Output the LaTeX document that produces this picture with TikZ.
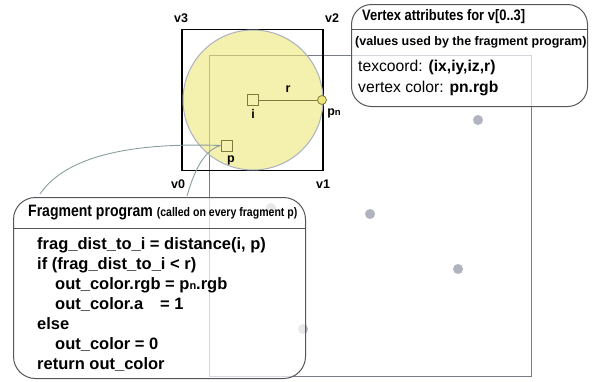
\documentclass[tikz,border=0pt]{standalone}
\usepackage{fontspec}
\setmainfont{Liberation Sans}
\newfontfamily\condfont{Liberation Sans}[FakeStretch=0.85]
\usetikzlibrary{positioning}
\definecolor{boxgray}{RGB}{85,85,92}
\definecolor{rectgray}{RGB}{120,124,138}
\definecolor{dotgray}{RGB}{176,180,192}
\definecolor{olivegray}{RGB}{128,122,62}
\definecolor{linkgray}{RGB}{138,158,160}
\definecolor{discfill}{RGB}{236,230,120}
\definecolor{discline}{RGB}{170,176,192}

\begin{document}
\begin{tikzpicture}[x=1pt, y=-1pt,
        attrbox/.style={draw=boxgray, line width=1pt, fill=white, fill opacity=0.7, rounded corners=20pt, inner sep=0pt},
        vlabel/.style={font=\bfseries\fontsize{12.5}{13}\selectfont, inner sep=0pt},
        marker/.style={draw=olivegray, line width=0.9pt, minimum size=11pt, inner sep=0pt},
        sample/.style={circle, fill=dotgray, minimum size=10pt, inner sep=0pt},
        link/.style={draw=linkgray, line width=0.9pt}
    ]
        \useasboundingbox (0,0) rectangle (602,381);

        % fragments covered by the quad
        \draw[rectgray, line width=1pt] (209,55) rectangle (531,376);
        \foreach \name/\px/\py in {s1/478/120, s2/370/214, s3/458/269, s4/303/329, s5/271/208}
            \node[sample] (\name) at (\px,\py) {};

        % the quad and its disc
        \node[draw=black, line width=1.8pt, minimum size=141pt, inner sep=0pt] (quad) at (252.5,100) {};
        \fill[discfill, fill opacity=0.6] (253,100) circle (70);
        \draw[discline, line width=1pt] (253,100) circle (70);

        \node[marker] (i) at (252.5,100) {};
        \node[marker] (p) at (226.5,145.5) {};
        \node[circle, draw=olivegray, fill=discfill, line width=0.8pt, minimum size=9pt, inner sep=0pt] (pn) at (322,100) {};
        \draw[olivegray, line width=1pt] (i) -- (pn);

        \node[vlabel] (lv3) at (181,18) {v3};
        \node[vlabel] (lv2) at (332,18) {v2};
        \node[vlabel] (lv0) at (178,184) {v0};
        \node[vlabel] (lv1) at (323,184) {v1};
        \node[vlabel] (li) at (253,114) {i};
        \node[vlabel] (lp) at (231,160) {p};
        \node[vlabel] (lr) at (288,89) {r};
        \node[vlabel] (lpn) at (334,113) {p{\fontsize{9.5}{10}\selectfont n}};

        % vertex attributes
        \node[attrbox, minimum width=236pt, minimum height=102pt, anchor=north west] (attr) at (351,4) {};
        \draw[boxgray, line width=1pt] (351,29) -- (587,29);
        \node[anchor=west, inner sep=0pt, font=\condfont\bfseries\fontsize{15.2}{16}\selectfont] (attrtitle) at (362,17) {Vertex attributes for v[0..3]};
        \node[anchor=west, inner sep=0pt, font=\bfseries\fontsize{12.5}{13}\selectfont] (attrnote) at (355,42) {(values used by the fragment program)};
        \node[anchor=west, inner sep=0pt, font=\fontsize{15.7}{16}\selectfont] (texc) at (358,67) {texcoord: \textbf{(ix,iy,iz,r)}};
        \node[anchor=west, inner sep=0pt, font=\fontsize{15.7}{16}\selectfont] (vcol) at (358,88) {vertex color: \textbf{pn.rgb}};

        % fragment program
        \node[attrbox, rounded corners=22pt, minimum width=292pt, minimum height=181pt, anchor=north west] (frag) at (13,197) {};
        \draw[boxgray, line width=1pt] (13,228) -- (305,228);
        \node[anchor=west, inner sep=0pt, font=\condfont\bfseries\fontsize{16.5}{17}\selectfont] (fragtitle) at (28,213) {Fragment program {\fontsize{12.4}{13}\selectfont (called on every fragment p)}};
        \node[anchor=north west, inner sep=0pt, align=left, font=\bfseries\fontsize{16.5}{20}\selectfont] (code) at (37,237) {%
            frag\_dist\_to\_i = distance(i, p)\\
            if (frag\_dist\_to\_i < r)\\
            \hspace*{18pt}out\_color.rgb = p{\fontsize{11}{11}\selectfont n}.rgb\\
            \hspace*{18pt}out\_color.a\hspace*{17pt}= 1\\
            else\\
            \hspace*{18pt}out\_color = 0\\
            return out\_color};

        % links from the program to the fragment
        \coordinate (f1) at (40,194);
        \coordinate (f2) at (187,196);
        \draw[link] (f1) .. controls (70,150) and (150,143) .. (p.west);
        \draw[link] (f2) .. controls (195,168) and (205,150) .. (p.west);
    \end{tikzpicture}
\end{document}
